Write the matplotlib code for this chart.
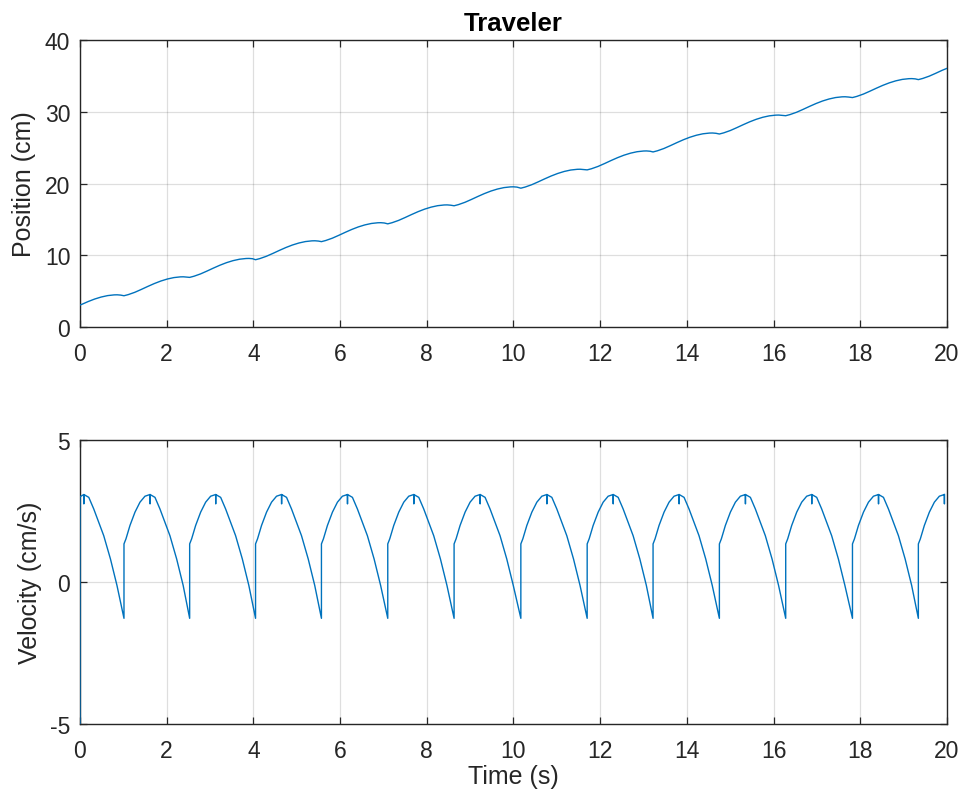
import numpy as np
import matplotlib
matplotlib.use("Agg")
import matplotlib.pyplot as plt

plt.rcParams['font.family'] = ['Liberation Sans', 'DejaVu Sans']
plt.rcParams['axes.unicode_minus'] = False

# times of the velocity jumps (s)
jump_times = [1.015, 2.53, 4.05, 5.57, 7.10, 8.63, 10.17, 11.70, 13.22, 14.75, 16.28, 17.82, 19.34]
# position at each jump (cm)
pos_at_jump = [4.36, 6.92, 9.38, 11.9, 14.38, 16.9, 19.35, 21.9, 24.4, 26.9, 29.45, 31.98, 34.48]

# one cycle of velocity, offsets from the jump (s) and values (cm/s)
vel_offsets = [0.0, 0.046, 0.138, 0.254, 0.369, 0.484, 0.600, 0.601, 0.602,
               0.715, 0.830, 0.945, 1.060, 1.215, 1.365]
vel_values = [1.34, 1.52, 1.99, 2.46, 2.81, 3.02, 3.08, 2.75, 3.08,
              2.98, 2.57, 2.10, 1.63, 0.81, -0.12]
vel_bottom = -1.28

# one cycle of position, offsets from the jump (s) and gain since the jump (cm)
pos_offsets = [0.0, 0.1, 0.25, 0.4, 0.55, 0.7, 0.85, 1.0, 1.15, 1.3, 1.37, 1.45]
pos_gain = [0.0, 0.16, 0.48, 0.88, 1.3, 1.7, 2.05, 2.33, 2.53, 2.63, 2.64, 2.6]

pos_start = 3.07
vel_start = -5.6
t_end = 20.0

period = np.mean(np.diff(jump_times))
starts = [jump_times[0] - period] + jump_times
ends = jump_times + [t_end]
pos_base = [pos_at_jump[0] - 2.51] + pos_at_jump

t_vel, v = [0.0, 0.0], [vel_start, 3.0]
t_pos, p = [0.0], [pos_start]
for k, (t0, t1) in enumerate(zip(starts, ends)):
    for o, val in zip(vel_offsets, vel_values):
        if 0 < t0 + o < t1 and t0 + o <= t_end:
            t_vel.append(t0 + o)
            v.append(val)
    for o, g in zip(pos_offsets, pos_gain):
        if 0 < t0 + o < t1 and t0 + o <= t_end:
            t_pos.append(t0 + o)
            p.append(pos_base[k] + g)
    if t1 < t_end:
        t_vel.append(t1)
        v.append(vel_bottom)
        t_pos.append(t1)
        p.append(pos_at_jump[k])
t_pos.append(t_end)
p.append(36.05)

line_color = '#0072BD'
ax_color = '#262626'

fig = plt.figure(figsize=(9.66, 8.04), dpi=100)
ax1 = fig.add_axes([0.0828, 0.592, 0.8975, 0.357])
ax2 = fig.add_axes([0.0828, 0.0983, 0.8975, 0.3532])

ax1.plot(t_pos, p, color=line_color, lw=1.0, zorder=3)
ax2.plot(t_vel, v, color=line_color, lw=1.0, zorder=3)

for ax in (ax1, ax2):
    ax.set_xlim(0, 20)
    ax.set_xticks(range(0, 21, 2))
    ax.grid(True, color='#000000', alpha=0.13, lw=0.9)
    ax.tick_params(direction='in', top=True, right=True, length=5, width=0.9,
                   colors=ax_color, labelsize=16.5)
    ax.tick_params(axis='x', pad=11)
    ax.tick_params(axis='y', pad=7)
    for s in ax.spines.values():
        s.set_color(ax_color)
        s.set_linewidth(1.0)

ax1.set_ylim(0, 40)
ax1.set_yticks([0, 10, 20, 30, 40])
ax1.set_ylabel('Position (cm)', fontsize=18, color=ax_color, labelpad=6)
ax1.set_title('Traveler', fontsize=18.5, fontweight='bold', color='#000000', pad=7)

ax2.set_ylim(-5, 5)
ax2.set_yticks([-5, 0, 5])
ax2.set_ylabel('Velocity (cm/s)', fontsize=18, color=ax_color, labelpad=6)
ax2.set_xlabel('Time (s)', fontsize=18, color=ax_color, labelpad=1)

fig.savefig('out.png', dpi=100)
